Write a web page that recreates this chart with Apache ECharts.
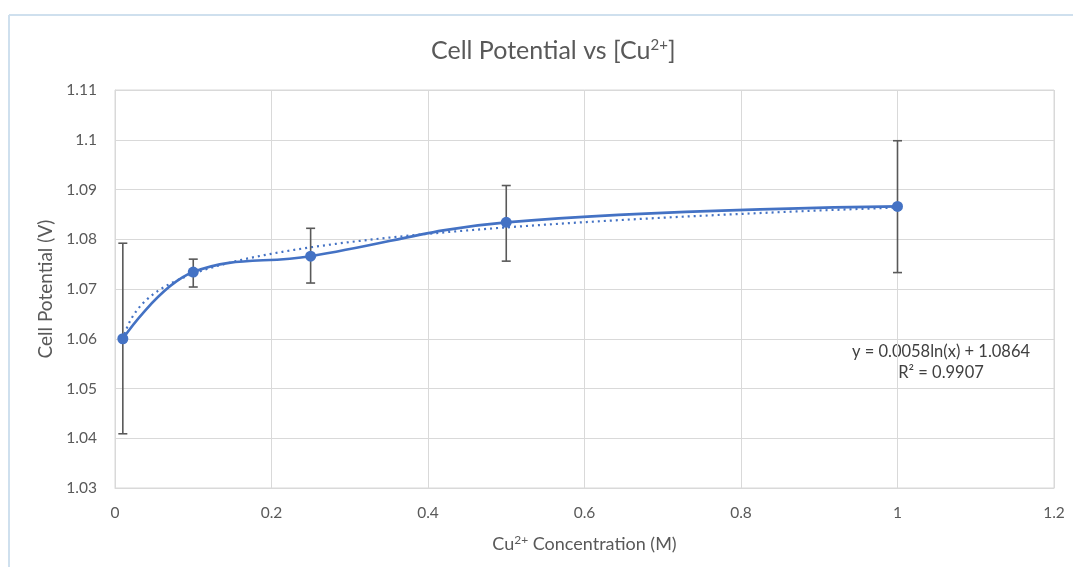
<!DOCTYPE html>
<html>
<head>
<meta charset="utf-8">
<script src="https://cdn.jsdelivr.net/npm/echarts@6/dist/echarts.min.js"></script>
<style>
html,body{margin:0;padding:0;background:#fff;}
#chart{width:1073px;height:567px;}
</style>
</head>
<body>
<div id="chart"></div>
<script>
// Data
var concentrations = [0.01, 0.1, 0.25, 0.5, 1];
var potentials = [1.0600, 1.0734, 1.0766, 1.0834, 1.0866];
var errorLow = [1.0409, 1.0704, 1.0712, 1.0756, 1.0733];
var errorHigh = [1.0792, 1.0760, 1.0822, 1.0908, 1.0998];
var xTicks = [0, 0.2, 0.4, 0.6, 0.8, 1, 1.2];
var yTicks = [1.03, 1.04, 1.05, 1.06, 1.07, 1.08, 1.09, 1.1, 1.11];
var equationText = 'y = 0.0058ln(x) + 1.0864';
var r2Text = 'R\u00B2 = 0.9907';

// Logarithmic trendline fitted from the data (least squares on ln x)
function logFit(xs, ys) {
  var n = xs.length, sx = 0, sy = 0, sxx = 0, sxy = 0;
  for (var i = 0; i < n; i++) {
    var lx = Math.log(xs[i]);
    sx += lx; sy += ys[i]; sxx += lx * lx; sxy += lx * ys[i];
  }
  var a = (n * sxy - sx * sy) / (n * sxx - sx * sx);
  var b = (sy - a * sx) / n;
  return {a: a, b: b};
}
var fit = logFit(concentrations, potentials);
var trend = [];
var xMin = concentrations[0], xMax = concentrations[concentrations.length - 1];
for (var k = 0; k <= 200; k++) {
  var t = k / 200;
  var xv = Math.exp(Math.log(xMin) + t * (Math.log(xMax) - Math.log(xMin)));
  trend.push([xv, fit.a * Math.log(xv) + fit.b]);
}

var lineData = concentrations.map(function (c, i) { return [c, potentials[i]]; });
var errData = concentrations.map(function (c, i) { return [c, errorLow[i], errorHigh[i]]; });

var chart = echarts.init(document.getElementById('chart'));
var textColor = '#595959';
var font = 'Lato, "Open Sans", sans-serif';

chart.setOption({
  animation: false,
  backgroundColor: '#ffffff',
  title: {
    text: 'Cell Potential vs [Cu{sup|2+}]',
    left: 426,
    top: 33,
    textStyle: {color: textColor, fontSize: 25, fontWeight: 'normal', fontFamily: font,
      rich: {sup: {fontSize: 15, verticalAlign: 'top', padding: [0, 0, 10, 0], color: textColor, fontFamily: font}}}
  },
  grid: {
    left: 115, right: 19, top: 90, bottom: 79,
    show: true, borderColor: '#d9d9d9', borderWidth: 1
  },
  xAxis: {
    type: 'value', min: 0, max: 1.2, interval: 0.2,
    name: 'Cu{sup|2+} Concentration (M)',
    nameLocation: 'middle', nameGap: 46,
    nameTextStyle: {color: textColor, fontSize: 18, fontFamily: font,
      rich: {sup: {fontSize: 12, padding: [0, 0, 8, 0], color: textColor, fontFamily: font}}},
    axisLine: {show: true, lineStyle: {color: '#d9d9d9'}},
    axisTick: {show: false},
    axisLabel: {color: textColor, fontSize: 15.5, margin: 17, fontFamily: font,
      formatter: function (v) { return String(+v.toFixed(2)); }},
    splitLine: {show: true, lineStyle: {color: '#d9d9d9', width: 1}}
  },
  yAxis: {
    type: 'value', min: 1.03, max: 1.11, interval: 0.01,
    name: 'Cell Potential (V)',
    nameLocation: 'middle', nameGap: 52,
    nameTextStyle: {color: textColor, fontSize: 19, fontFamily: font},
    axisLine: {show: true, lineStyle: {color: '#d9d9d9'}},
    axisTick: {show: false},
    axisLabel: {color: textColor, fontSize: 15.5, margin: 18, fontFamily: font,
      formatter: function (v) { return String(+v.toFixed(2)); }},
    splitLine: {show: true, lineStyle: {color: '#d9d9d9', width: 1}}
  },
  graphic: [
    {type: 'line', shape: {x1: 9, y1: 15, x2: 1073, y2: 15}, style: {stroke: '#cfe0ee', lineWidth: 2}},
    {type: 'line', shape: {x1: 9, y1: 15, x2: 9, y2: 567}, style: {stroke: '#cfe0ee', lineWidth: 2}},
    {type: 'text', x: 941, y: 352, style: {text: equationText, fill: '#404040', fontSize: 16.5, fontFamily: font, align: 'center', verticalAlign: 'middle'}},
    {type: 'text', x: 941, y: 373, style: {text: r2Text, fill: '#404040', fontSize: 16.5, fontFamily: font, align: 'center', verticalAlign: 'middle'}}
  ],
  series: [
    {
      name: 'Trendline', type: 'line', data: trend, showSymbol: false, smooth: false,
      lineStyle: {color: '#4472C4', width: 2.2, type: [2, 4]}, z: 2
    },
    {
      name: 'Error', type: 'custom', data: errData, z: 3,
      renderItem: function (params, api) {
        var x = api.value(0);
        var lo = api.coord([x, api.value(1)]);
        var hi = api.coord([x, api.value(2)]);
        var half = 4.5;
        var st = {stroke: '#595959', lineWidth: 1.6};
        return {type: 'group', children: [
          {type: 'line', shape: {x1: lo[0], y1: lo[1], x2: hi[0], y2: hi[1]}, style: st},
          {type: 'line', shape: {x1: lo[0] - half, y1: lo[1], x2: lo[0] + half, y2: lo[1]}, style: st},
          {type: 'line', shape: {x1: hi[0] - half, y1: hi[1], x2: hi[0] + half, y2: hi[1]}, style: st}
        ]};
      }
    },
    {
      name: 'Cell Potential', type: 'line', data: lineData, smooth: 0.4,
      symbol: 'circle', symbolSize: 11,
      itemStyle: {color: '#4472C4'},
      lineStyle: {color: '#4472C4', width: 2.6}, z: 4
    }
  ]
});
</script>
</body>
</html>
